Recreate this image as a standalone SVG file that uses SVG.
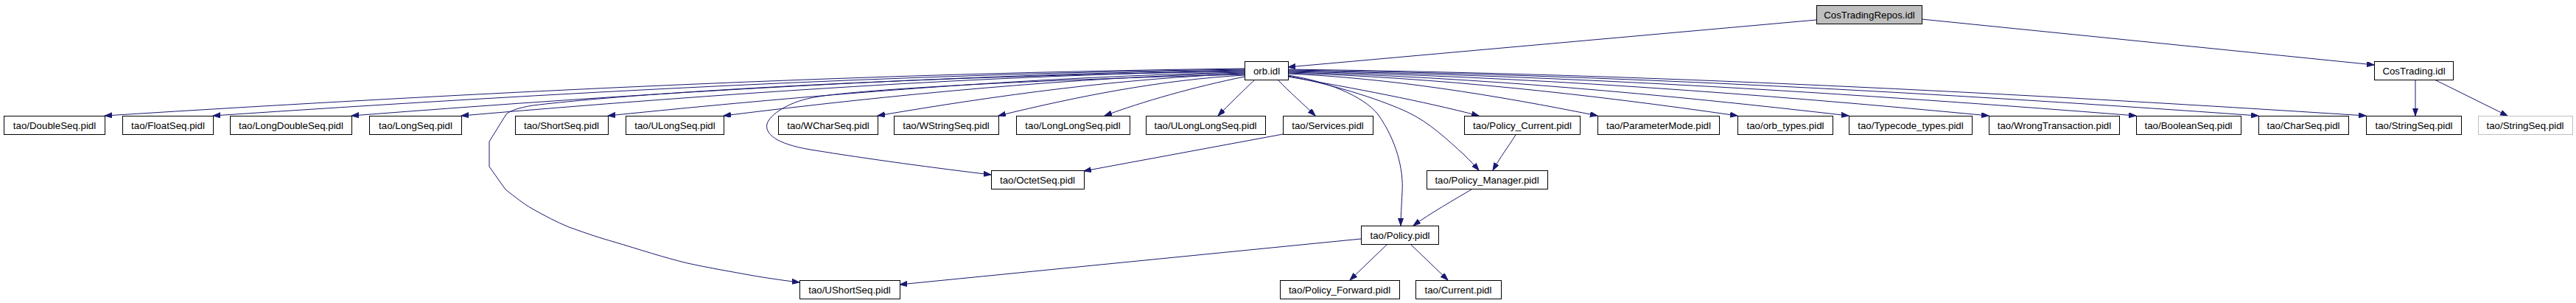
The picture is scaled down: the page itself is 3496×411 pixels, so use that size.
<svg xmlns="http://www.w3.org/2000/svg" width="3496" height="411" viewBox="0 0 3496 411">
<style>
.n rect{fill:#fff;stroke:#000;stroke-width:1}
.n.root rect{fill:#bfbfbf}
.n.miss rect{stroke:#bfbfbf}
.n text{font-family:"Liberation Sans",Arial,sans-serif;font-size:13.3px;text-anchor:middle;fill:#000}
#edges path{fill:none;stroke:#191970;stroke-width:1;marker-end:url(#ah)}
</style>
<defs>
<marker id="ah" markerUnits="userSpaceOnUse" markerWidth="11" markerHeight="8" refX="10" refY="3.5" orient="auto">
<path d="M0,0 L10,3.5 L0,7 z" fill="#191970" stroke="#191970" stroke-width="1"/>
</marker>
</defs>
<rect width="3496" height="411" fill="#fff"/>
<g id="edges">
<path d="M2465,27 L1748,91"/>
<path d="M2608,26 L3222,88"/>
<path d="M3278,108 L3278,157"/>
<path d="M3304,108 L3403,157"/>
<path d="M1689,93 C1178,99 652,125 142,157"/>
<path d="M1689,94 C1227,100 751,126 289,157"/>
<path d="M1689,95 C1289,101 877,126 477,157"/>
<path d="M1689,96 C1338,102 977,127 626,157"/>
<path d="M1689,97 C1300,102 900,122 723,143 C705,146 692,150 687,155 L664,192 L664,226 L686,257 C700,268 710,276 722,283 C740,293 755,301 772,308 C800,318 815,323 833,328 C870,339 900,349 933,357 C960,363 990,368 1017,373 C1040,377 1060,380 1085,383"/>
<path d="M1689,98 C1404,104 1110,128 825,157"/>
<path d="M1689,99 C1456,105 1215,128 982,157"/>
<path d="M1689,100 C1525,106 1355,129 1191,157"/>
<path d="M1689,101 C1400,108 1150,122 1100,133 C1070,139 1045,155 1041,168 C1038,181 1052,195 1100,203 C1180,216 1270,228 1345,237"/>
<path d="M1689,102 C1579,108 1465,130 1355,157"/>
<path d="M1689,104 C1620,118 1550,138 1499,157"/>
<path d="M1703,108 C1685,125 1668,142 1653,157"/>
<path d="M1734,108 C1750,125 1770,142 1785,157"/>
<path d="M1748,104 C1840,120 1930,137 2007,157"/>
<path d="M1748,100 C1887,106 2029,129 2168,157"/>
<path d="M1748,99 C1949,105 2157,128 2358,157"/>
<path d="M1748,98 C1999,104 2258,128 2509,157"/>
<path d="M1748,97 C2062,103 2385,127 2699,157"/>
<path d="M1748,96 C2128,102 2519,127 2899,157"/>
<path d="M1748,95 C2183,101 2630,126 3065,157"/>
<path d="M1748,94 C2231,100 2728,126 3211,157"/>
<path d="M1748,102 C1800,110 1850,130 1870,155 C1895,190 1905,230 1903,260 C1902,280 1901,295 1901,306"/>
<path d="M1748,103 C1820,117 1880,138 1910,152 C1940,166 1965,190 1987,210 C1995,218 2002,225 2007,231"/>
<path d="M1741,182 L1471,232"/>
<path d="M2057,183 C2048,197 2035,215 2026,231"/>
<path d="M1997,257 C1975,270 1940,290 1918,306"/>
<path d="M1847,324 L1221,386"/>
<path d="M1883,331 L1832,380"/>
<path d="M1914,331 L1965,380"/>
</g>
<g id="n_CosTradingRepos" class="n root"><rect x="2465.5" y="7.5" width="143" height="25"/><text x="2537" y="25">CosTradingRepos.idl</text></g>
<g id="n_orb" class="n"><rect x="1689.5" y="83.5" width="59" height="25"/><text x="1719" y="101">orb.idl</text></g>
<g id="n_CosTrading" class="n"><rect x="3222.5" y="83.5" width="107" height="25"/><text x="3276" y="101">CosTrading.idl</text></g>
<g id="n_DoubleSeq" class="n"><rect x="5.5" y="157.5" width="137" height="25"/><text x="74" y="175">tao/DoubleSeq.pidl</text></g>
<g id="n_FloatSeq" class="n"><rect x="166.5" y="157.5" width="123" height="25"/><text x="228" y="175">tao/FloatSeq.pidl</text></g>
<g id="n_LongDoubleSeq" class="n"><rect x="312.5" y="157.5" width="165" height="25"/><text x="395" y="175">tao/LongDoubleSeq.pidl</text></g>
<g id="n_LongSeq" class="n"><rect x="501.5" y="157.5" width="125" height="25"/><text x="564" y="175">tao/LongSeq.pidl</text></g>
<g id="n_ShortSeq" class="n"><rect x="699.5" y="157.5" width="126" height="25"/><text x="762" y="175">tao/ShortSeq.pidl</text></g>
<g id="n_ULongSeq" class="n"><rect x="849.5" y="157.5" width="133" height="25"/><text x="916" y="175">tao/ULongSeq.pidl</text></g>
<g id="n_WCharSeq" class="n"><rect x="1056.5" y="157.5" width="135" height="25"/><text x="1124" y="175">tao/WCharSeq.pidl</text></g>
<g id="n_WStringSeq" class="n"><rect x="1213.5" y="157.5" width="142" height="25"/><text x="1284" y="175">tao/WStringSeq.pidl</text></g>
<g id="n_LongLongSeq" class="n"><rect x="1379.5" y="157.5" width="154" height="25"/><text x="1456" y="175">tao/LongLongSeq.pidl</text></g>
<g id="n_ULongLongSeq" class="n"><rect x="1555.5" y="157.5" width="162" height="25"/><text x="1636" y="175">tao/ULongLongSeq.pidl</text></g>
<g id="n_Services" class="n"><rect x="1741.5" y="157.5" width="122" height="25"/><text x="1802" y="175">tao/Services.pidl</text></g>
<g id="n_Policy_Current" class="n"><rect x="1987.5" y="157.5" width="157" height="25"/><text x="2066" y="175">tao/Policy_Current.pidl</text></g>
<g id="n_ParameterMode" class="n"><rect x="2168.5" y="157.5" width="165" height="25"/><text x="2251" y="175">tao/ParameterMode.pidl</text></g>
<g id="n_orb_types" class="n"><rect x="2358.5" y="157.5" width="129" height="25"/><text x="2423" y="175">tao/orb_types.pidl</text></g>
<g id="n_Typecode_types" class="n"><rect x="2509.5" y="157.5" width="167" height="25"/><text x="2593" y="175">tao/Typecode_types.pidl</text></g>
<g id="n_WrongTransaction" class="n"><rect x="2699.5" y="157.5" width="177" height="25"/><text x="2788" y="175">tao/WrongTransaction.pidl</text></g>
<g id="n_BooleanSeq" class="n"><rect x="2899.5" y="157.5" width="142" height="25"/><text x="2970" y="175">tao/BooleanSeq.pidl</text></g>
<g id="n_CharSeq" class="n"><rect x="3065.5" y="157.5" width="122" height="25"/><text x="3126" y="175">tao/CharSeq.pidl</text></g>
<g id="n_StringSeq" class="n"><rect x="3211.5" y="157.5" width="129" height="25"/><text x="3276" y="175">tao/StringSeq.pidl</text></g>
<g id="n_StringSeq2" class="n miss"><rect x="3363.5" y="157.5" width="128" height="25"/><text x="3427" y="175">tao/StringSeq.pidl</text></g>
<g id="n_OctetSeq" class="n"><rect x="1345.5" y="231.5" width="126" height="25"/><text x="1408" y="249">tao/OctetSeq.pidl</text></g>
<g id="n_Policy_Manager" class="n"><rect x="1936.5" y="231.5" width="164" height="25"/><text x="2018" y="249">tao/Policy_Manager.pidl</text></g>
<g id="n_Policy" class="n"><rect x="1847.5" y="306.5" width="105" height="25"/><text x="1900" y="324">tao/Policy.pidl</text></g>
<g id="n_UShortSeq" class="n"><rect x="1085.5" y="380.5" width="136" height="25"/><text x="1153" y="398">tao/UShortSeq.pidl</text></g>
<g id="n_Policy_Forward" class="n"><rect x="1737.5" y="380.5" width="162" height="25"/><text x="1818" y="398">tao/Policy_Forward.pidl</text></g>
<g id="n_Current" class="n"><rect x="1921.5" y="380.5" width="116" height="25"/><text x="1979" y="398">tao/Current.pidl</text></g>
</svg>
